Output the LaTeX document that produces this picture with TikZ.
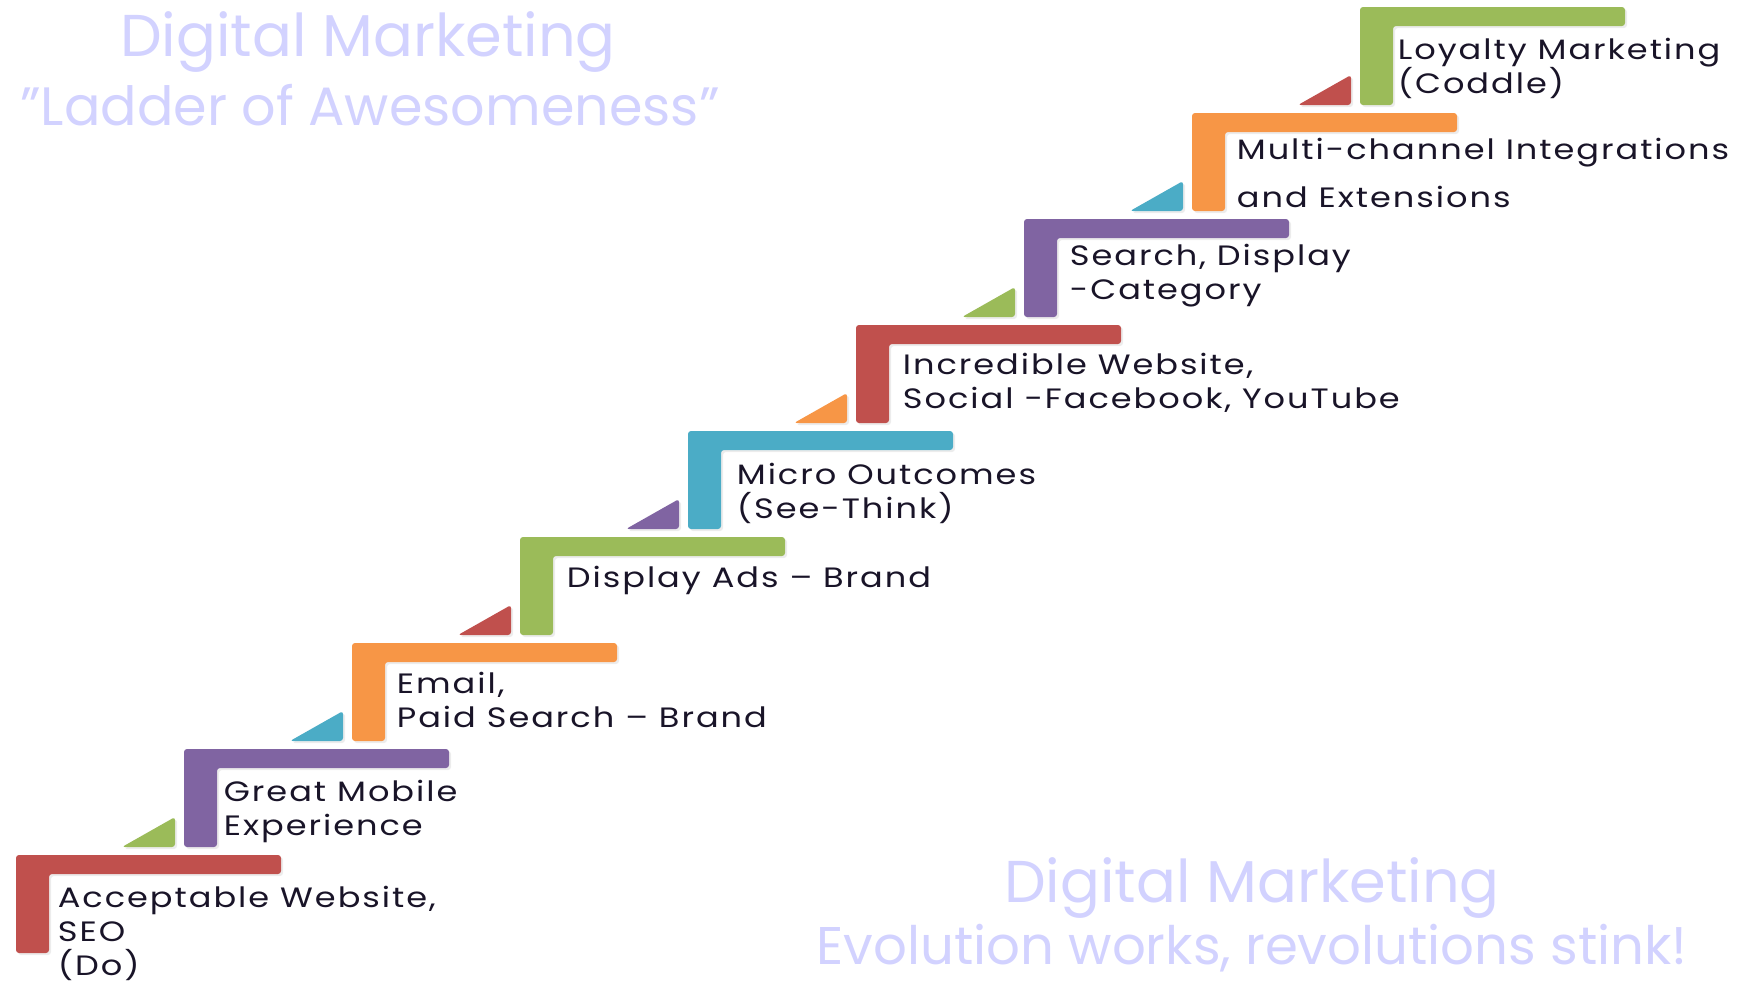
\documentclass[tikz,border=0pt]{standalone}
\usepackage{fontspec}
\setmainfont{Poppins}
\usetikzlibrary{shadows}
\definecolor{ladRed}{HTML}{C0504D}
\definecolor{ladPurple}{HTML}{8064A2}
\definecolor{ladOrange}{HTML}{F79646}
\definecolor{ladGreen}{HTML}{9BBB59}
\definecolor{ladBlue}{HTML}{4BACC6}
\definecolor{ladTitle}{RGB}{210,210,255}
\definecolor{ladText}{RGB}{25,20,40}
\begin{document}
\begin{tikzpicture}[x=0.5pt,y=0.5pt,yscale=-1,
  bar/.style={rounded corners=1.5pt, drop shadow={shadow xshift=1pt,shadow yshift=-1pt,opacity=0.15}},
  redbar/.style={bar, fill=ladRed},
  purplebar/.style={bar, fill=ladPurple},
  orangebar/.style={bar, fill=ladOrange},
  greenbar/.style={bar, fill=ladGreen},
  bluebar/.style={bar, fill=ladBlue},
  steptext/.style={anchor=west, inner sep=0.75pt, align=left, text=ladText,
    font=\fontsize{14}{17}\selectfont\addfontfeatures{FakeStretch=1.2,LetterSpace=7}},
  titletext/.style={text=ladTitle, inner sep=0.75pt, font=\fontsize{27}{30}\selectfont},
  bigtitle/.style={titletext, font=\fontsize{29.5}{32}\selectfont}]
\useasboundingbox (0,0) rectangle (1737,985);

%Shape: Step 1 (red)
\fill [redbar] (16,855) -- (281,855) -- (281,874) -- (49,874) -- (49,953) -- (16,953) -- cycle ;

%Shape: Step 2 (purple) and its riser
\fill [greenbar] (122,847) -- (175,847) -- (175,817) -- cycle ;
\fill [purplebar] (184,749) -- (449,749) -- (449,768) -- (217,768) -- (217,847) -- (184,847) -- cycle ;

%Shape: Step 3 (orange) and its riser
\fill [bluebar] (290,741) -- (343,741) -- (343,711) -- cycle ;
\fill [orangebar] (352,643) -- (617,643) -- (617,662) -- (385,662) -- (385,741) -- (352,741) -- cycle ;

%Shape: Step 4 (green) and its riser
\fill [redbar] (458,635) -- (511,635) -- (511,605) -- cycle ;
\fill [greenbar] (520,537) -- (785,537) -- (785,556) -- (553,556) -- (553,635) -- (520,635) -- cycle ;

%Shape: Step 5 (blue) and its riser
\fill [purplebar] (626,529) -- (679,529) -- (679,499) -- cycle ;
\fill [bluebar] (688,431) -- (953,431) -- (953,450) -- (721,450) -- (721,529) -- (688,529) -- cycle ;

%Shape: Step 6 (red) and its riser
\fill [orangebar] (794,423) -- (847,423) -- (847,393) -- cycle ;
\fill [redbar] (856,325) -- (1121,325) -- (1121,344) -- (889,344) -- (889,423) -- (856,423) -- cycle ;

%Shape: Step 7 (purple) and its riser
\fill [greenbar] (962,317) -- (1015,317) -- (1015,287) -- cycle ;
\fill [purplebar] (1024,219) -- (1289,219) -- (1289,238) -- (1057,238) -- (1057,317) -- (1024,317) -- cycle ;

%Shape: Step 8 (orange) and its riser
\fill [bluebar] (1130,211) -- (1183,211) -- (1183,181) -- cycle ;
\fill [orangebar] (1192,113) -- (1457,113) -- (1457,132) -- (1225,132) -- (1225,211) -- (1192,211) -- cycle ;

%Shape: Step 9 (green) and its riser
\fill [redbar] (1298,105) -- (1351,105) -- (1351,75) -- cycle ;
\fill [greenbar] (1360,7) -- (1625,7) -- (1625,26) -- (1393,26) -- (1393,105) -- (1360,105) -- cycle ;

% Text Node
\node (doText) [steptext, anchor=north west] at (56,884) {Acceptable Website,\\SEO\\(Do)};
% Text Node
\node (mobileText) [steptext, anchor=north west] at (222,778) {Great Mobile\\Experience};
% Text Node
\node (emailText) [steptext, anchor=north west] at (395,670) {Email,\\Paid Search – Brand};
% Text Node
\node (adsText) [steptext] at (565,580) {Display Ads – Brand};
% Text Node
\node (microText) [steptext, anchor=north west] at (735,461) {Micro Outcomes\\(See-Think)};
% Text Node
\node (socialText) [steptext, anchor=north west] at (901,351) {Incredible Website,\\Social -Facebook, YouTube};
% Text Node
\node (searchText) [steptext, anchor=north west] at (1068,242) {Search, Display\\-Category};
% Text Node
\node (multiText) [steptext, anchor=north west] at (1235,136) {Multi-channel Integrations\\[7pt]and Extensions};
% Text Node
\node (loyaltyText) [steptext, anchor=north west] at (1396,36) {Loyalty Marketing\\(Coddle)};

% Text Node
\node (titleTop) [bigtitle] at (368,42) {Digital Marketing};
% Text Node
\node (ladderTop) [titletext] at (370,105) {"Ladder of Awesomeness"};
% Text Node
\node (titleBottom) [bigtitle] at (1252,888) {Digital Marketing};
% Text Node
\node (mottoBottom) [titletext, font=\fontsize{26.5}{30}\selectfont] at (1252,948) {Evolution works, revolutions stink!};

\end{tikzpicture}
\end{document}
